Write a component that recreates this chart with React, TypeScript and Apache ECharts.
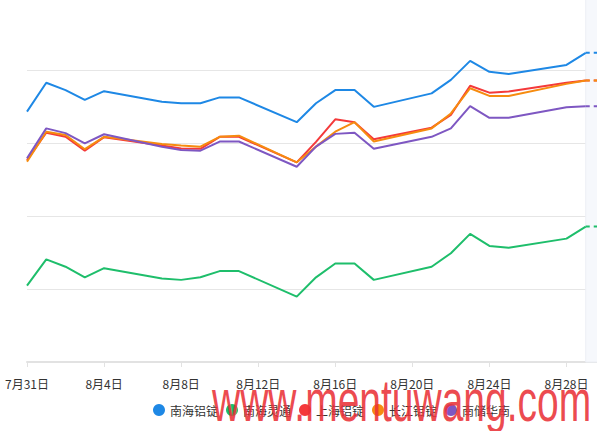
import React, { useEffect, useRef } from "react";
import * as echarts from "echarts";

const dates: string[] = [
  "7月31日", "8月1日", "8月2日", "8月3日", "8月4日", "8月5日", "8月6日", "8月7日",
  "8月8日", "8月9日", "8月10日", "8月11日", "8月12日", "8月13日", "8月14日", "8月15日",
  "8月16日", "8月17日", "8月18日", "8月19日", "8月20日", "8月21日", "8月22日", "8月23日",
  "8月24日", "8月25日", "8月26日", "8月27日", "8月28日", "8月29日", "8月30日",
];

const seriesNames: string[] = ["南海铝锭", "南海灵通", "上海铝锭", "长江铝锭", "南储华南"];
const seriesColors: string[] = ["#1e88e5", "#1ebe6b", "#f4393a", "#f68b0f", "#7e57c2"];

const nanhai: (number | null)[] = [
  19086, 19165, 19145, 19118, 19142, null, null, 19113, 19109, 19109, 19125, 19125, null, null,
  19057, 19109, 19145, 19145, 19099, null, null, 19136, 19173, 19225, 19195, 19189, null, null,
  19214, 19247, null,
];
const lingtong: (number | null)[] = [
  18609, 18681, 18661, 18632, 18657, null, null, 18629, 18625, 18632, 18649, 18649, null, null,
  18579, 18632, 18670, 18670, 18625, null, null, 18661, 18698, 18751, 18718, 18713, null, null,
  18738, 18771, null,
];
const shanghai: (number | null)[] = [
  18953, 19028, 19017, 18979, 19016, null, null, 18993, 18985, 18984, 19017, 19017, null, null,
  18947, 19003, 19065, 19057, 19010, null, null, 19042, 19077, 19157, 19138, 19141, null, null,
  19165, 19171, null,
];
const changjiang: (number | null)[] = [
  18949, 19031, 19022, 18983, 19017, null, null, 18997, 18993, 18990, 19017, 19020, null, null,
  18947, 18990, 19031, 19057, 19004, null, null, 19040, 19081, 19150, 19129, 19129, null, null,
  19162, 19171, null,
];
const nanchu: (number | null)[] = [
  18958, 19040, 19027, 18999, 19024, null, null, 18990, 18981, 18979, 19004, 19004, null, null,
  18935, 18990, 19025, 19028, 18984, null, null, 19017, 19040, 19101, 19069, 19069, null, null,
  19098, 19101, null,
];

const seriesData = [nanhai, lingtong, shanghai, changjiang, nanchu];

const yMin = 18400;
const yMax = 19400;
const yInterval = 200;

export default function App() {
  const ref = useRef<HTMLDivElement>(null);

  useEffect(() => {
    if (!ref.current) return;
    const chart = echarts.init(ref.current, undefined, { renderer: "svg" });
    const last = dates.length - 1;

    const mainSeries = seriesNames.map((name, k) => ({
      name,
      type: "line",
      data: seriesData[k],
      connectNulls: true,
      showSymbol: false,
      symbol: "circle",
      lineStyle: { width: 2, color: seriesColors[k] },
      itemStyle: { color: seriesColors[k] },
      z: 3,
    }));

    const dashedSeries = seriesNames.map((name, k) => {
      const d: (number | null)[] = dates.map(() => null);
      const lastVal = seriesData[k][last - 1] as number;
      d[last - 1] = lastVal;
      d[last] = lastVal;
      const s: any = {
        name,
        type: "line",
        data: d,
        showSymbol: false,
        symbol: "circle",
        lineStyle: { width: 2, color: seriesColors[k], type: [4, 4] },
        itemStyle: { color: seriesColors[k] },
        z: 3,
      };
      if (k === 0) {
        s.markArea = {
          silent: true,
          itemStyle: { color: "#f6f8fc", borderColor: "#eceff5", borderWidth: 1 },
          data: [[{ xAxis: dates[last - 1] }, { xAxis: dates[last] }]],
        };
      }
      return s;
    });

    chart.setOption({
      animation: false,
      grid: {
        left: 27,
        width: 578,
        top: -3,
        bottom: 69,
        containLabel: false,
        outerBoundsMode: "none",
      },
      legend: {
        data: seriesNames.map((n) => ({ name: n, icon: "circle" })),
        left: 148,
        top: 399,
        itemWidth: 12,
        itemHeight: 12,
        itemGap: 8,
        textStyle: { color: "#333", fontSize: 12, fontFamily: "Noto Sans CJK SC" },
      },
      xAxis: {
        type: "category",
        boundaryGap: false,
        data: dates,
        axisLine: { lineStyle: { color: "#e2e2e2", width: 2 } },
        axisTick: { interval: 3, length: 5, lineStyle: { color: "#e2e2e2" } },
        axisLabel: {
          interval: 3,
          margin: 15,
          color: "#333",
          fontSize: 12,
          fontFamily: "Noto Sans CJK SC",
        },
      },
      yAxis: {
        type: "value",
        min: yMin,
        max: yMax,
        interval: yInterval,
        axisLabel: { show: false },
        axisLine: { show: false },
        axisTick: { show: false },
        splitLine: { lineStyle: { color: "#e6e6e6", width: 1 } },
      },
      graphic: [
        {
          type: "text",
          x: 212,
          y: 401,
          scaleY: 1.5,
          z: 100,
          style: {
            text: "www.mentuwang.com",
            fill: "rgba(234, 50, 56, 0.88)",
            font: "39px 'Liberation Sans', Arial, sans-serif",
            verticalAlign: "middle",
            align: "left",
          },
        },
      ],
      series: [...mainSeries, ...dashedSeries],
    });

    return () => chart.dispose();
  }, []);

  return (
    <div
      ref={ref}
      style={{ position: "absolute", left: 0, top: 0, width: 597, height: 431 }}
    />
  );
}
